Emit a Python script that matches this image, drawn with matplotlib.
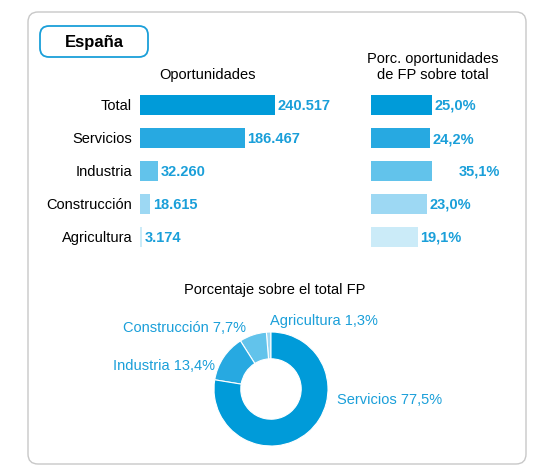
import matplotlib
matplotlib.use("Agg")
import matplotlib.pyplot as plt
from matplotlib.patches import FancyBboxPatch

plt.rcParams['font.family'] = ['Liberation Sans', 'DejaVu Sans']

categories = ["Total", "Servicios", "Industria", "Construcción", "Agricultura"]
oportunidades = [240517, 186467, 32260, 18615, 3174]
oport_labels = ["240.517", "186.467", "32.260", "18.615", "3.174"]
porc_fp = [25.0, 24.2, 35.1, 23.0, 19.1]
porc_labels = ["25,0%", "24,2%", "35,1%", "23,0%", "19,1%"]
colors = ["#009bd9", "#27a9e1", "#62c3eb", "#9dd8f3", "#cbebf8"]
pie_cats = ["Agricultura", "Construcción", "Industria", "Servicios"]
pie_vals = [1.3, 7.7, 13.4, 77.5]
pie_labels = ["Agricultura 1,3%", "Construcción 7,7%", "Industria 13,4%", "Servicios 77,5%"]
pie_colors = ["#9dd8f3", "#62c3eb", "#27a9e1", "#009bd9"]

W, H = 543, 477
fig = plt.figure(figsize=(W/100, H/100), dpi=100)
blue = "#1a9fd9"

bg = fig.add_axes([0, 0, 1, 1])
bg.set_xlim(0, W); bg.set_ylim(H, 0); bg.axis('off')
bg.add_patch(FancyBboxPatch((28, 13), 498, 452, boxstyle="round,pad=0,rounding_size=10",
                            fc="white", ec="#c8c8c8", lw=1))
bg.add_patch(FancyBboxPatch((40, 27), 108, 31, boxstyle="round,pad=0,rounding_size=9",
                            fc="white", ec=blue, lw=1.3))
bg.text(94, 43, "España", ha='center', va='center', fontsize=12, fontweight='bold')
bg.text(207, 75, "Oportunidades", ha='center', va='center', fontsize=10.5)
bg.text(433, 67, "Porc. oportunidades\nde FP sobre total", ha='center', va='center',
        fontsize=10.5, linespacing=1.1)
bg.text(275, 290, "Porcentaje sobre el total FP", ha='center', va='center', fontsize=10.5)

def pix_axes(x0, y0, w, h):
    return fig.add_axes([x0/W, 1-(y0+h)/H, w/W, h/H])

axL = pix_axes(140, 89.5, 135, 165)
y = list(range(len(categories)))
axL.barh(y, oportunidades, height=0.62, color=colors)
axL.set_xlim(0, oportunidades[0]); axL.set_ylim(4.5, -0.5); axL.axis('off')
for i, (v, lab, c) in enumerate(zip(oportunidades, oport_labels, categories)):
    axL.text(v + 5000, i, lab, va='center', ha='left', fontsize=10.5, fontweight='bold',
             color=blue, clip_on=False)
    axL.text(-14000, i, c, va='center', ha='right', fontsize=10.5, clip_on=False)

axR = pix_axes(371, 89.5, 61, 165)
axR.barh(y, porc_fp, height=0.62, color=colors)
axR.set_xlim(0, porc_fp[0]); axR.set_ylim(4.5, -0.5); axR.axis('off')
for i, (v, lab) in enumerate(zip(porc_fp, porc_labels)):
    axR.text(v + 1.0, i, lab, va='center', ha='left', fontsize=10.5, fontweight='bold',
             color=blue, clip_on=False)

axP = pix_axes(214, 333, 114, 114)
axP.pie(pie_vals, colors=pie_colors, startangle=90, counterclock=True,
        wedgeprops=dict(width=0.47, edgecolor='white', linewidth=0.8))
axP.set_xlim(-1, 1); axP.set_ylim(-1, 1); axP.set_aspect('equal'); axP.axis('off')

bg.text(270, 321, pie_labels[0], ha='left', va='center', fontsize=10.5, color=blue)
bg.text(123, 328, pie_labels[1], ha='left', va='center', fontsize=10.5, color=blue)
bg.text(113, 366, pie_labels[2], ha='left', va='center', fontsize=10.5, color=blue)
bg.text(337, 400, pie_labels[3], ha='left', va='center', fontsize=10.5, color=blue)

fig.savefig("out.png", dpi=100)
